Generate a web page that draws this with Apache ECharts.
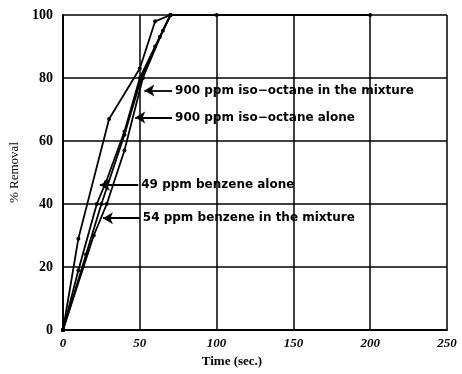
<!DOCTYPE html>
<html><head><meta charset="utf-8">
<script src="https://cdn.jsdelivr.net/npm/echarts@6/dist/echarts.min.js"></script>
<style>html,body{margin:0;padding:0;background:#fff}#c{width:462px;height:374px}</style>
</head><body><div id="c"></div>
<script>
// Data (time in sec, % removal)
const isoMixture   = [[0,0],[10,29],[30,67],[50,83],[60,98],[70,100],[100,100],[200,100]];
const isoAlone     = [[0,0],[15,24],[25,40],[40,62],[51,80],[63,93],[70,100]];
const benzAlone    = [[0,0],[10,19],[22,40],[28,47],[40,63],[50,80],[60,90],[70,100]];
const benzMixture  = [[0,0],[20,30],[28.5,40],[40,57],[52,80],[65,95],[70,100]];
const xTicks = [0,50,100,150,200,250];
const yTicks = [0,20,40,60,80,100];
// annotation: label, text anchor (x,y), arrow tip (x,y) in data units
const annLabels = ['900 ppm iso\u2212octane in the mixture','900 ppm iso\u2212octane alone','49 ppm benzene alone','54 ppm benzene in the mixture'];
const annFrom = [[71,76],[71,67.5],[49,46],[50,35.5]];
const annTo   = [[53,76],[47,67.5],[24,46],[26,35.5]];

const chart = echarts.init(document.getElementById('c'));
const serif = '"Liberation Serif","DejaVu Serif",serif';
const sans = '"DejaVu Sans",sans-serif';
function line(data){
  return {type:'line',data:data,symbol:'circle',symbolSize:4,showSymbol:true,
    lineStyle:{color:'#000',width:1.8},itemStyle:{color:'#000'},z:3,animation:false};
}
const series=[line(isoMixture),line(isoAlone),line(benzAlone),line(benzMixture)];
series.push({type:'line',data:[],animation:false,
  markLine:{silent:true,symbol:['none','arrow'],symbolSize:[9,10],animation:false,
    lineStyle:{color:'#000',width:1.8,type:'solid'},
    label:{show:true,position:'start',distance:3,color:'#000',fontFamily:sans,fontWeight:'bold',fontSize:12},
    data:annLabels.map((t,i)=>[{coord:annFrom[i],label:{formatter:t}},{coord:annTo[i]}])
  }});
chart.setOption({
  animation:false,
  grid:{left:63,right:15,top:15,bottom:44},
  xAxis:{type:'value',min:0,max:250,interval:50,
    name:'Time (sec.)',nameLocation:'middle',nameGap:21,
    nameTextStyle:{color:'#000',fontFamily:serif,fontSize:13,fontWeight:'bold',padding:[0,46,0,0]},
    axisLine:{show:true,lineStyle:{color:'#000',width:1.8}},axisTick:{show:false},
    axisLabel:{color:'#000',fontFamily:serif,fontStyle:'italic',fontWeight:'bold',fontSize:13,margin:7,
      formatter:v=>xTicks.includes(v)?String(v):''},
    splitLine:{show:true,lineStyle:{color:'#000',width:1.5}}},
  yAxis:{type:'value',min:0,max:100,interval:20,
    name:'% Removal',nameLocation:'middle',nameGap:40,
    nameTextStyle:{color:'#000',fontFamily:serif,fontSize:13},
    axisLine:{show:true,lineStyle:{color:'#000',width:1.8}},axisTick:{show:false},
    axisLabel:{color:'#000',fontFamily:serif,fontWeight:'bold',fontSize:14,margin:10,
      formatter:v=>yTicks.includes(v)?String(v):''},
    splitLine:{show:true,lineStyle:{color:'#000',width:1.5}}},
  series:series
});
</script></body></html>
